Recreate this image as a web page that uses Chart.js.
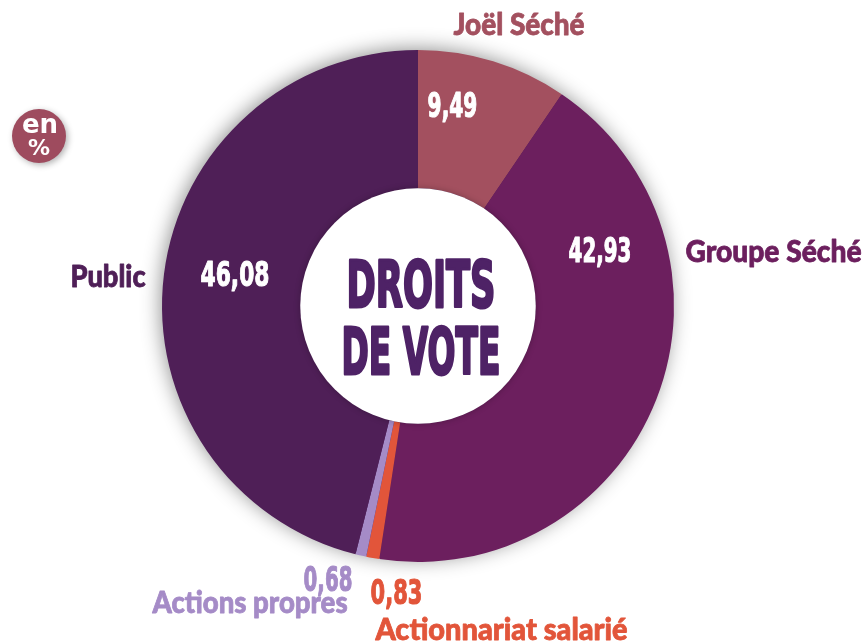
<!DOCTYPE html>
<html>
<head>
<meta charset="utf-8">
<script src="https://cdn.jsdelivr.net/npm/chart.js@4.4.1/dist/chart.umd.min.js"></script>
<style>
  html, body { margin: 0; padding: 0; background: #fff; }
  #wrap { width: 867px; height: 643px; }
</style>
</head>
<body>
<div id="wrap"><canvas id="vote" width="867" height="643"></canvas></div>
<script>
// shareholders, clockwise from the top
const holders = ['Joël Séché', 'Groupe Séché', 'Actionnariat salarié', 'Actions propres', 'Public']
const voteShares = [9.49, 42.93, 0.83, 0.68, 46.08]
const sliceColors = ['#a3505f', '#6c1f5e', '#e2553a', '#a58bc7', '#4f1f57']
const centerTitle = ['DROITS', 'DE VOTE']
const unitBadge = ['en', '%']

const fmt = v => v.toFixed(2).replace('.', ',')

// text placement: [left, baseline, width] for the name and for the value
const nameBoxes = [[453, 35, 132], [685, 262, 177], [375, 640, 253], [152, 613, 196], [70, 287, 76]]
const valueBoxes = [[427, 118, 51], [568, 263, 64], [370, 605, 53], [303, 592, 50], [200, 287, 70]]
const valueInside = [true, true, false, false, true]

const NAME_FONT = '900 30px Lato, "Open Sans", sans-serif'
const NUM_FONT = 'bold 33px "DejaVu Sans", sans-serif'
const TITLE_FONT = 'bold 64px "DejaVu Sans", sans-serif'

function fitText(ctx, text, left, baseline, width, font, color, weight = 0) {
  ctx.save()
  ctx.font = font
  ctx.fillStyle = color
  ctx.strokeStyle = color
  ctx.lineJoin = 'round'
  ctx.textBaseline = 'alphabetic'
  ctx.textAlign = 'left'
  const w = ctx.measureText(text).width + weight
  ctx.translate(left + weight / 2, baseline - weight / 2)
  ctx.scale((width - weight) / (w - weight), 1)
  ctx.fillText(text, 0, 0)
  if (weight) {
    ctx.lineWidth = weight
    ctx.strokeText(text, 0, 0)
  }
  ctx.restore()
}

const ringDecor = {
  id: 'ringDecor',
  beforeDatasetsDraw(chart) {
    const arc = chart.getDatasetMeta(0).data[0]
    const { ctx } = chart
    ctx.save()
    ctx.shadowColor = 'rgba(0,0,0,0.45)'
    ctx.shadowBlur = 20
    ctx.shadowOffsetX = -2
    ctx.shadowOffsetY = -2
    ctx.fillStyle = sliceColors[4]
    ctx.beginPath()
    ctx.arc(arc.x, arc.y, arc.outerRadius - 1, 0, Math.PI * 2)
    ctx.fill()
    ctx.restore()
  },
  afterDatasetsDraw(chart) {
    const arc = chart.getDatasetMeta(0).data[0]
    const { ctx } = chart
    ctx.save()
    ctx.shadowColor = 'rgba(0,0,0,0.25)'
    ctx.shadowBlur = 6
    ctx.fillStyle = '#fff'
    ctx.beginPath()
    ctx.arc(arc.x, arc.y, arc.innerRadius, 0, Math.PI * 2)
    ctx.fill()
    ctx.restore()

    // centre title
    fitText(ctx, centerTitle[0], 345, 308, 152, TITLE_FONT, '#4e2266', 3)
    fitText(ctx, centerTitle[1], 340, 375, 162, TITLE_FONT, '#4e2266', 3)

    // names and values
    holders.forEach((name, i) => {
      const [nx, ny, nw] = nameBoxes[i]
      fitText(ctx, name, nx, ny, nw, NAME_FONT, sliceColors[i], 0.8)
      const [vx, vy, vw] = valueBoxes[i]
      fitText(ctx, fmt(voteShares[i]), vx, vy, vw, NUM_FONT, valueInside[i] ? '#fff' : sliceColors[i], 1.2)
    })

    // "en %" badge
    ctx.save()
    ctx.shadowColor = 'rgba(0,0,0,0.3)'
    ctx.shadowBlur = 6
    ctx.shadowOffsetX = 2
    ctx.shadowOffsetY = 2
    ctx.fillStyle = '#9e4b5e'
    ctx.beginPath()
    ctx.arc(39, 136, 27, 0, Math.PI * 2)
    ctx.fill()
    ctx.restore()
    ctx.save()
    ctx.fillStyle = '#fff'
    ctx.textAlign = 'center'
    ctx.textBaseline = 'alphabetic'
    ctx.font = 'bold 26px "DejaVu Sans", sans-serif'
    ctx.fillText(unitBadge[0], 40, 133)
    ctx.font = 'bold 22px "DejaVu Sans", sans-serif'
    ctx.fillText(unitBadge[1], 39, 155)
    ctx.restore()
  }
}

new Chart(document.getElementById('vote'), {
  type: 'doughnut',
  data: {
    labels: holders,
    datasets: [{
      data: voteShares,
      backgroundColor: sliceColors,
      borderWidth: 0,
      hoverBorderWidth: 0,
      hoverOffset: 0
    }]
  },
  options: {
    responsive: false,
    animation: false,
    cutout: '46%',
    rotation: 0,
    layout: { padding: { left: 162, right: 193, top: 50, bottom: 81 } },
    plugins: { legend: { display: false }, tooltip: { enabled: false } },
    events: []
  },
  plugins: [ringDecor]
})
</script>
</body>
</html>
